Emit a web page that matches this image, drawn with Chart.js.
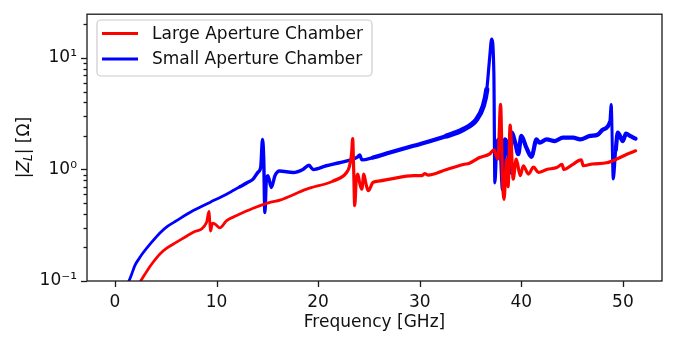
<!DOCTYPE html>
<html>
<head>
<meta charset="utf-8">
<script src="https://cdn.jsdelivr.net/npm/chart.js@4.4.1/dist/chart.umd.min.js"></script>
<style>
  body { margin: 0; background: #fff; }
  #wrap { width: 675px; height: 337px; }
</style>
</head>
<body>
<div id="wrap"><canvas id="zChart" width="675" height="337"></canvas></div>
<script>
// longitudinal impedance magnitude vs frequency, two chamber geometries
var freqLarge = [2.53, 2.9, 3.3, 3.77, 4.43, 5.1, 6.07, 7.71, 9.02, 9.25, 9.42, 9.6, 9.84, 10.33, 11.0, 11.98, 13.6, 15.26,
  16.24, 18.87, 21.5, 22.8, 23.1, 23.3, 23.4, 23.5, 23.6, 23.75, 23.9, 24.1, 24.3, 24.5, 24.7, 24.93, 25.4,
  26.1, 27.07, 29.4, 30.2, 30.5, 30.8, 32.65, 34.3, 34.9, 35.9, 36.9, 37.3, 37.7, 37.96, 38.15, 38.3,
  38.55, 38.7, 38.9, 39.2, 39.5, 39.9, 40.2, 40.7, 41.2, 41.7, 42.5, 43.5, 44.0, 44.2, 45.0, 45.9, 46.1,
  47.0, 48.4, 49.4, 50.4, 51.25];
var zLarge = [0.1, 0.113, 0.129, 0.148, 0.175, 0.197, 0.223, 0.274, 0.336, 0.42, 0.28, 0.33, 0.325, 0.30, 0.348, 0.386, 0.449, 0.507,
  0.532, 0.667, 0.79, 0.94, 1.08, 1.4, 1.89, 1.0, 0.474, 0.8, 0.91, 0.75, 0.667, 0.91, 0.75, 0.645, 0.765,
  0.79, 0.82, 0.88, 0.88, 0.92, 0.89, 1.0, 1.11, 1.14, 1.28, 1.38, 1.5, 1.24, 3.83, 0.82, 0.54,
  1.24, 0.7, 2.5, 0.82, 1.24, 0.88, 1.08, 0.91, 1.05, 0.94, 1.0, 1.04, 1.11, 1.0, 1.1, 1.22, 1.08,
  1.12, 1.15, 1.24, 1.37, 1.47];

var freqSmall = [1.38, 1.6, 1.97, 2.4, 2.79, 3.6, 4.43, 5.2, 6.07, 7.71, 9.35, 10.99, 12.3, 13.0, 13.6, 14.1, 14.35, 14.53,
  14.65, 14.76, 14.9, 15.05, 15.4, 15.75, 16.2, 17.55, 18.5, 19.1, 19.5, 20.8, 22.1, 23.45, 23.9, 24.1,
  24.3, 25.4, 27.07, 29.4, 32.65, 34.3, 35.6, 36.25, 36.6, 36.9, 37.08, 37.3, 37.4, 37.6, 37.9, 38.2,
  38.4, 38.7, 38.9, 39.05, 39.4, 39.7, 40.0, 40.5, 41.0, 41.5, 41.8, 42.5, 43.3, 44.1, 45.1, 45.8, 46.75,
  47.5, 48.06, 48.7, 48.85, 49.05, 49.3, 49.5, 50.0, 50.3, 50.7, 51.25];
var zSmall = [0.1, 0.112, 0.138, 0.16, 0.18, 0.222, 0.27, 0.31, 0.348, 0.428, 0.507, 0.60, 0.70, 0.76, 0.82, 0.95, 1.05, 1.86,
  1.2, 0.41, 0.8, 0.88, 0.69, 0.88, 0.97, 0.94, 1.0, 1.09, 1.0, 1.08, 1.15, 1.24, 1.3, 1.35,
  1.22, 1.28, 1.42, 1.63, 2.0, 2.29, 2.81, 3.7, 5.2, 10.4, 14.8, 7.3, 0.76, 1.74, 1.86, 0.66,
  1.86, 1.52, 0.94, 2.14, 1.74, 1.37, 2.0, 1.57, 1.3, 1.86, 1.74, 1.86, 1.8, 1.93, 1.93, 1.86, 2.0,
  2.05, 2.29, 2.63, 3.83, 0.82, 1.5, 2.14, 1.8, 2.1, 2.0, 1.89];

var seriesNames = ["Large Aperture Chamber", "Small Aperture Chamber"];
var seriesColors = ["#ff0000", "#0000ff"];

var xTicks = [0, 10, 20, 30, 40, 50];
var yMajorTicks = [0.1, 1, 10];
var yMajorLabels = ["10\u207B\u00B9", "10\u2070", "10\u00B9"];
var yMinorTicks = [0.2, 0.3, 0.4, 0.5, 0.6, 0.7, 0.8, 0.9, 2, 3, 4, 5, 6, 7, 8, 9, 20];

var FONT = "'DejaVu Sans', sans-serif";
var FSIZE = 17;

function toPoints(xs, ys) {
  var pts = [];
  for (var i = 0; i < xs.length; i++) pts.push({ x: xs[i], y: ys[i] });
  return pts;
}

// the measured traces are noisy, thicker stroke where the ripple is strongest
function smallWidth(ctx) {
  var f = ctx.p0.parsed.x;
  if (f < 12) return 2.8;
  if (f < 25) return 3.4;
  if (f < 32) return 4.2;
  if (f < 36.5) return 5.2;
  if (f < 37.5) return 3.2;
  if (f > 48.6 && f < 49.2) return 3;
  return 4.2;
}
function largeWidth(ctx) {
  var f = ctx.p0.parsed.x;
  if (f < 20) return 2.8;
  return 3.2;
}

function majorIndex(v) {
  for (var i = 0; i < yMajorTicks.length; i++) {
    if (Math.abs(v - yMajorTicks[i]) < 1e-9) return i;
  }
  return -1;
}

// spines, tick marks, axis titles and the legend box
var decorations = {
  id: "decorations",
  afterDraw: function(chart) {
    var c = chart.ctx;
    var a = chart.chartArea;
    var xs = chart.scales.x, ys = chart.scales.y;
    c.save();
    c.strokeStyle = "#1a1a1a";
    c.lineWidth = 1.3;

    // x ticks
    xTicks.forEach(function(v) {
      var px = Math.round(xs.getPixelForValue(v)) + 0.5;
      c.beginPath();
      c.moveTo(px, a.bottom);
      c.lineTo(px, a.bottom + 6);
      c.stroke();
    });
    // y ticks, major and minor
    yMajorTicks.concat(yMinorTicks).forEach(function(v) {
      var py = Math.round(ys.getPixelForValue(v)) + 0.5;
      var len = majorIndex(v) >= 0 ? 6 : 3.5;
      c.beginPath();
      c.moveTo(a.left, py);
      c.lineTo(a.left - len, py);
      c.stroke();
    });
    c.strokeRect(a.left, a.top, a.right - a.left, a.bottom - a.top);

    // x title
    c.fillStyle = "#111";
    c.font = FSIZE + "px " + FONT;
    c.textAlign = "center";
    c.textBaseline = "middle";
    c.fillText("Frequency [GHz]", (a.left + a.right) / 2, 323);

    // y title |Z_L| [Ω], rotated
    c.translate(25, (a.top + a.bottom) / 2);
    c.rotate(-Math.PI / 2);
    var parts = [
      { t: "|", f: FSIZE + "px " + FONT, dy: 0 },
      { t: "Z", f: "oblique " + FSIZE + "px " + FONT, dy: 0 },
      { t: "L", f: "oblique " + (FSIZE * 0.7) + "px " + FONT, dy: 3.5 },
      { t: "| [\u03A9]", f: FSIZE + "px " + FONT, dy: 0 }
    ];
    var total = 0;
    parts.forEach(function(p) { c.font = p.f; p.w = c.measureText(p.t).width; total += p.w; });
    var x0 = -total / 2;
    c.textAlign = "left";
    c.textBaseline = "middle";
    parts.forEach(function(p) {
      c.font = p.f;
      c.fillText(p.t, x0, p.dy);
      x0 += p.w;
    });
    c.restore();

    // legend
    c.save();
    var bx = 97, by = 20, bw = 275, bh = 56, r = 4;
    c.beginPath();
    c.moveTo(bx + r, by);
    c.arcTo(bx + bw, by, bx + bw, by + bh, r);
    c.arcTo(bx + bw, by + bh, bx, by + bh, r);
    c.arcTo(bx, by + bh, bx, by, r);
    c.arcTo(bx, by, bx + bw, by, r);
    c.closePath();
    c.fillStyle = "rgba(255,255,255,0.8)";
    c.fill();
    c.strokeStyle = "#cccccc";
    c.lineWidth = 1.2;
    c.stroke();
    var rows = [33.5, 59];
    c.font = FSIZE + "px " + FONT;
    c.textAlign = "left";
    c.textBaseline = "middle";
    for (var i = 0; i < seriesNames.length; i++) {
      c.strokeStyle = seriesColors[i];
      c.lineWidth = 2.8;
      c.beginPath();
      c.moveTo(102, rows[i]);
      c.lineTo(138, rows[i]);
      c.stroke();
      c.fillStyle = "#111";
      c.fillText(seriesNames[i], 152, rows[i] + 1);
    }
    c.restore();
  }
};

var tickFont = { family: FONT, size: FSIZE };

new Chart(document.getElementById("zChart"), {
  type: "line",
  data: {
    datasets: [
      {
        label: seriesNames[0],
        data: toPoints(freqLarge, zLarge),
        borderColor: seriesColors[0],
        borderWidth: 3,
        segment: { borderWidth: largeWidth }
      },
      {
        label: seriesNames[1],
        data: toPoints(freqSmall, zSmall),
        borderColor: seriesColors[1],
        borderWidth: 3,
        segment: { borderWidth: smallWidth }
      }
    ]
  },
  options: {
    responsive: false,
    animation: false,
    devicePixelRatio: 1,
    parsing: false,
    layout: { padding: { top: 11, right: 13, left: 0, bottom: 0 } },
    elements: {
      point: { radius: 0 },
      line: { cubicInterpolationMode: "monotone", borderJoinStyle: "round", borderCapStyle: "round", fill: false }
    },
    plugins: { legend: { display: false }, tooltip: { enabled: false } },
    scales: {
      x: {
        type: "linear",
        min: -2.75,
        max: 53.85,
        afterBuildTicks: function(s) { s.ticks = xTicks.map(function(v) { return { value: v }; }); },
        afterFit: function(s) { s.height = 56; },
        grid: { display: false, drawTicks: true, tickLength: 6 },
        border: { display: false },
        ticks: { font: tickFont, color: "#111", padding: 5, maxRotation: 0, autoSkip: false,
          callback: function(v) { return String(v); } }
      },
      y: {
        type: "logarithmic",
        min: 0.1,
        max: 24.7,
        afterBuildTicks: function(s) {
          s.ticks = yMajorTicks.concat(yMinorTicks).sort(function(p, q) { return p - q; })
            .map(function(v) { return { value: v }; });
        },
        afterFit: function(s) { s.width = 87; },
        grid: { display: false, drawTicks: true, tickLength: 6 },
        border: { display: false },
        ticks: { font: tickFont, color: "#111", padding: 4, autoSkip: false,
          callback: function(v) { var k = majorIndex(v); return k >= 0 ? yMajorLabels[k] : ""; } }
      }
    }
  },
  plugins: [decorations]
});
</script>
</body>
</html>
